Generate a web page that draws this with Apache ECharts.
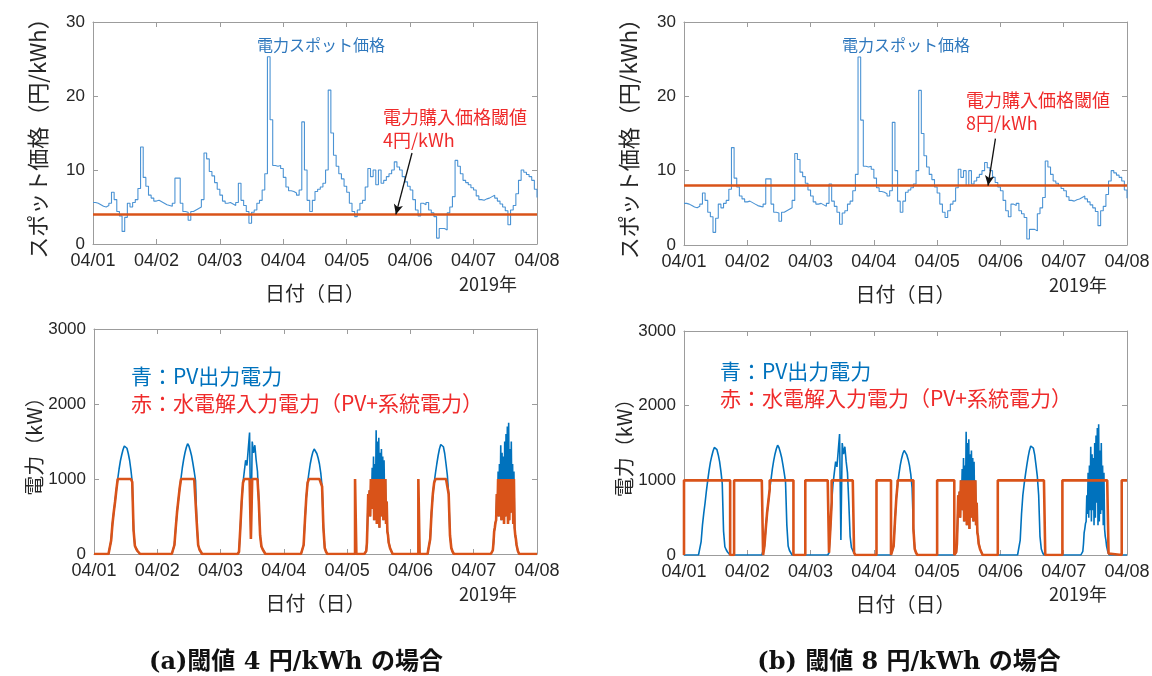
<!DOCTYPE html>
<html>
<head>
<meta charset="utf-8">
<script src="https://cdn.jsdelivr.net/npm/echarts@6.0.0/dist/echarts.min.js"></script>
<style>
  html, body { margin: 0; padding: 0; background: #ffffff; }
  #chart { width: 1152px; height: 676px; }
</style>
</head>
<body>
<div id="chart"></div>
<script>
// ---- data -----------------------------------------------------------------
// x axis runs in hours from 2019-04-01 00:00; one tick per day
const dayLabels = ['04/01', '04/02', '04/03', '04/04', '04/05', '04/06', '04/07', '04/08'];
const HOURS_PER_DAY = 24;

// JEPX spot price, hourly (円/kWh), 04/01 00:00 .. 04/08 00:00
const spotPriceDay1 = [5.6, 5.5, 5.3, 5.1, 5.0, 5.2, 5.5, 7.0, 6.0, 4.4, 3.8, 1.7, 3.6, 5.5, 5.0, 5.6, 6.0, 7.5, 13.1, 9.0, 7.8, 6.6, 6.2, 5.8];
const spotPriceDay2 = [5.9, 5.7, 5.5, 5.3, 5.2, 5.1, 5.5, 8.9, 8.9, 5.5, 4.4, 4.3, 3.2, 4.4, 4.6, 4.8, 5.0, 6.0, 12.3, 11.5, 9.8, 9.2, 8.3, 7.4];
const spotPriceDay3 = [6.6, 5.8, 5.5, 5.6, 5.4, 5.2, 5.6, 8.2, 5.9, 5.2, 4.4, 2.8, 4.3, 4.6, 5.5, 5.9, 7.3, 9.5, 25.3, 16.8, 10.6, 10.5, 10.6, 10.2];
const spotPriceDay4 = [9.0, 7.7, 7.2, 7.1, 6.9, 6.6, 7.3, 16.5, 10.0, 5.9, 4.4, 5.9, 7.1, 7.4, 7.7, 8.2, 10.0, 20.8, 15.0, 12.0, 10.5, 9.5, 8.8, 7.8];
const spotPriceDay5 = [7.0, 5.5, 4.4, 3.7, 4.6, 5.5, 5.9, 7.7, 10.2, 9.1, 10.0, 8.0, 10.0, 8.2, 8.6, 9.1, 9.5, 10.0, 11.1, 10.4, 10.0, 9.1, 8.4, 7.8];
const spotPriceDay6 = [7.3, 6.0, 4.6, 3.8, 5.5, 5.3, 5.6, 4.6, 4.2, 3.7, 0.8, 2.1, 2.1, 1.9, 4.2, 5.0, 6.4, 11.3, 10.5, 9.5, 8.6, 8.3, 8.0, 7.6];
const spotPriceDay7 = [7.3, 6.5, 6.0, 5.9, 6.1, 6.2, 6.4, 6.6, 6.2, 5.8, 5.4, 5.0, 4.5, 2.6, 4.6, 5.2, 6.8, 8.6, 10.0, 9.7, 9.4, 9.1, 8.6, 7.4];
const spotPriceEnd = [6.3];

// purchase thresholds of the two cases (円/kWh)
const thresholdA = 4;
const thresholdB = 8;

// PV output (kW) from 05:30 to 17:30; zero outside that window.
// Clear days are sampled every 30 min, the cloudy days every 15 min.
const PV_FIRST_HOUR = 5.5;
const pvDay1 = [0, 20, 180, 400, 560, 700, 860, 1000, 1130, 1240, 1320, 1390, 1440, 1450, 1410, 1340, 1250, 1120, 960, 320, 110, 70, 40, 15, 0];
const pvDay2 = [0, 0, 120, 350, 560, 720, 880, 1010, 1150, 1260, 1350, 1420, 1470, 1440, 1380, 1310, 1210, 1100, 980, 400, 120, 60, 30, 0, 0];
const pvDay3 = [0, 0, 0, 30, 350, 700, 950, 1100, 1250, 1180, 1400, 1620, 200, 1500, 1350, 1450, 1250, 1100, 700, 250, 100, 60, 30, 0, 0];
const pvDay4 = [0, 0, 0, 0, 120, 450, 750, 950, 1080, 1200, 1290, 1360, 1400, 1390, 1340, 1280, 1200, 1080, 900, 350, 80, 30, 0, 0, 0];
const pvDay5 = [0, 0, 0, 0, 0, 0, 0, 40, 150, 450, 800, 600, 850, 500, 1000, 750, 1150, 600, 1300, 450, 1200, 700, 1650, 400,
                1500, 600, 1550, 350, 1350, 500, 1400, 700, 1300, 450, 1250, 600, 1000, 400, 700, 300, 250, 150, 120, 80, 60, 40, 20, 0, 0];
const pvDay6 = [0, 0, 0, 0, 200, 550, 800, 950, 1080, 1200, 1310, 1400, 1460, 1480, 1430, 1340, 1200, 1050, 800, 250, 80, 30, 0, 0, 0];
const pvDay7 = [0, 0, 0, 0, 0, 0, 0, 50, 150, 300, 350, 420, 450, 800, 550, 1100, 500, 1200, 600, 1450, 450, 1350, 600, 1300,
                400, 1500, 500, 1600, 700, 1700, 400, 1750, 450, 1400, 550, 1500, 600, 1200, 400, 1100, 350, 250, 200, 120, 80, 40, 20, 0, 0];
const pvSampleHours = [0.5, 0.5, 0.5, 0.5, 0.25, 0.5, 0.25];

// electrolyser rated input (kW)
const electrolyserMax = 1000;

// periods (hours from 04/01 00:00) where grid power is bought to run the electrolyser at full load
const gridBuyA = [[99, 99.5], [123, 123.5]];
const gridBuyB = [[0, 17.5], [19, 30], [32.5, 41.5], [46, 55], [56, 64.5], [73, 78.5], [81, 87],
                  [96, 102.5], [119, 137], [143.5, 161], [166, 168]];

// ---- series construction ---------------------------------------------------
const spotPrice = [].concat(spotPriceDay1, spotPriceDay2, spotPriceDay3, spotPriceDay4,
                            spotPriceDay5, spotPriceDay6, spotPriceDay7, spotPriceEnd);
const priceData = spotPrice.map((v, h) => [h, v]);

const pvDays = [pvDay1, pvDay2, pvDay3, pvDay4, pvDay5, pvDay6, pvDay7];
const TOTAL_HOURS = (dayLabels.length - 1) * HOURS_PER_DAY;

function pvAt(t) {
  const d = Math.floor(t / HOURS_PER_DAY);
  const arr = pvDays[d];
  if (!arr) return 0;
  const idx = (t - d * HOURS_PER_DAY - PV_FIRST_HOUR) / pvSampleHours[d];
  const i = Math.round(idx);
  return (Math.abs(idx - i) < 1e-6 && i >= 0 && i < arr.length) ? arr[i] : 0;
}

const pvData = [[0, 0]];
pvDays.forEach((arr, d) => {
  arr.forEach((v, i) => pvData.push([d * HOURS_PER_DAY + PV_FIRST_HOUR + i * pvSampleHours[d], v]));
});
pvData.push([TOTAL_HOURS, 0]);

// electrolyser input: full load while buying from the grid, otherwise PV capped at rated input
function electrolyserInput(periods) {
  const times = new Set(pvData.map(p => p[0]));
  periods.forEach(([a, b]) => { times.add(a); times.add(b); });
  const out = [];
  [...times].sort((x, y) => x - y).forEach(t => {
    const own = Math.min(pvAt(t), electrolyserMax);
    const inside = periods.some(([a, b]) => t > a && t < b);
    const starts = periods.some(([a]) => a === t);
    const ends = periods.some(([, b]) => b === t);
    if (inside) {
      out.push([t, electrolyserMax]);
    } else if (starts) {
      out.push([t, own], [t, electrolyserMax]);
    } else if (ends) {
      out.push([t, electrolyserMax]);
      if (t < TOTAL_HOURS) out.push([t, own]);
    } else {
      out.push([t, own]);
    }
  });
  return out;
}
const inputA = electrolyserInput(gridBuyA);
const inputB = electrolyserInput(gridBuyB);

// ---- styling -----------------------------------------------------------------
const FONT_CJK = '"Noto Sans CJK JP", sans-serif';
const FONT_NUM = '"Liberation Sans", Arial, sans-serif';
const AXIS_GRAY = '#9c9c9c';
const TEXT_DARK = '#262626';
const PRICE_BLUE = '#4b93d4';
const PV_BLUE = '#0072bd';
const INPUT_RED = '#d95319';
const LABEL_BLUE = '#2f78bd';
const LABEL_RED = '#ef2b2b';

const panels = [
  { left: 93,  top: 22,  width: 444, height: 222, yMax: 30,   yStep: 10,   yName: 'スポット価格（円/kWh）', nameSize: 22, nameGap: 44 },
  { left: 684, top: 22,  width: 443, height: 223, yMax: 30,   yStep: 10,   yName: 'スポット価格（円/kWh）', nameSize: 22, nameGap: 44 },
  { left: 94,  top: 329, width: 443, height: 225, yMax: 3000, yStep: 1000, yName: '電力（kW）', nameSize: 20, nameGap: 50 },
  { left: 684, top: 331, width: 443, height: 224, yMax: 3000, yStep: 1000, yName: '電力（kW）', nameSize: 20, nameGap: 50 }
];

const grids = [], xAxes = [], yAxes = [];
panels.forEach((p, i) => {
  grids.push({ left: p.left, top: p.top, width: p.width, height: p.height, containLabel: false, outerBoundsMode: 'none' });
  const tick = { show: true, inside: true, length: 5, lineStyle: { color: AXIS_GRAY, width: 1 } };
  const line = { show: true, onZero: false, lineStyle: { color: AXIS_GRAY, width: 1 } };
  xAxes.push({
    gridIndex: i, type: 'value', position: 'bottom', min: 0, max: TOTAL_HOURS, interval: HOURS_PER_DAY,
    axisLine: line, axisTick: tick, splitLine: { show: false },
    axisLabel: {
      margin: 8, color: TEXT_DARK, fontSize: 18, fontFamily: FONT_NUM,
      showMinLabel: true, showMaxLabel: true, hideOverlap: false,
      formatter: v => dayLabels[Math.round(v / HOURS_PER_DAY)]
    },
    name: '日付（日）', nameLocation: 'middle', nameGap: 39, nameMoveOverlap: false,
    nameTextStyle: { fontSize: 20, color: TEXT_DARK, fontFamily: FONT_CJK }
  });
  xAxes.push({
    gridIndex: i, type: 'value', position: 'top', min: 0, max: TOTAL_HOURS, interval: HOURS_PER_DAY,
    axisLine: line, axisTick: tick, axisLabel: { show: false }, splitLine: { show: false }
  });
  yAxes.push({
    gridIndex: i, type: 'value', position: 'left', min: 0, max: p.yMax, interval: p.yStep,
    axisLine: line, axisTick: tick, splitLine: { show: false },
    axisLabel: {
      margin: 8, color: TEXT_DARK, fontSize: 17, fontFamily: FONT_NUM,
      showMinLabel: true, showMaxLabel: true, formatter: v => String(v)
    },
    name: p.yName, nameLocation: 'middle', nameRotate: 90, nameGap: p.nameGap, nameMoveOverlap: false,
    nameTextStyle: { fontSize: p.nameSize, color: TEXT_DARK, fontFamily: FONT_CJK }
  });
  yAxes.push({
    gridIndex: i, type: 'value', position: 'right', min: 0, max: p.yMax, interval: p.yStep,
    axisLine: line, axisTick: tick, axisLabel: { show: false }, splitLine: { show: false }
  });
});

function priceSeries(panel, threshold, arrowTail, arrowHeadHour) {
  return {
    type: 'line', xAxisIndex: panel * 2, yAxisIndex: panel * 2, data: priceData,
    step: 'end', showSymbol: false, silent: true, z: 2,
    lineStyle: { color: PRICE_BLUE, width: 1.1 },
    markLine: {
      silent: true, animation: false, symbol: ['none', 'none'], label: { show: false },
      data: [
        { yAxis: threshold, lineStyle: { color: INPUT_RED, width: 2.6, type: 'solid' } },
        [
          { coord: arrowTail, symbol: 'none', lineStyle: { color: '#111111', width: 1.3, type: 'solid' } },
          { coord: [arrowHeadHour, threshold], symbol: 'arrow', symbolSize: [7, 10] }
        ]
      ]
    }
  };
}

function powerSeries(panel, inputData) {
  return [
    {
      type: 'line', xAxisIndex: panel * 2, yAxisIndex: panel * 2, data: pvData,
      showSymbol: false, silent: true, z: 2, lineStyle: { color: PV_BLUE, width: 1.6 }
    },
    {
      type: 'line', xAxisIndex: panel * 2, yAxisIndex: panel * 2, data: inputData,
      showSymbol: false, silent: true, z: 3, lineStyle: { color: INPUT_RED, width: 2.6 }
    }
  ];
}

function text(x, y, str, size, color, opts = {}) {
  return {
    type: 'text', silent: true, z: 10,
    style: {
      x, y, text: str, fill: color,
      font: `${opts.weight || 'normal'} ${size}px ${opts.family || FONT_CJK}`,
      align: opts.align || 'left', verticalAlign: opts.valign || 'middle',
      lineHeight: opts.lineHeight
    }
  };
}

const CAPTION_FONT = '"DejaVu Serif", "Noto Sans CJK JP", serif';

const option = {
  animation: false,
  backgroundColor: '#ffffff',
  grid: grids,
  xAxis: xAxes,
  yAxis: yAxes,
  series: [
    priceSeries(0, thresholdA, [120.7, 12.3], 114.6),
    priceSeries(1, thresholdB, [118.1, 14.3], 115.3),
    ...powerSeries(2, inputA),
    ...powerSeries(3, inputB)
  ],
  graphic: [
    text(257, 45, '電力スポット価格', 16, LABEL_BLUE),
    text(383, 106, '電力購入価格閾値\n4円/kWh', 18, LABEL_RED, { valign: 'top', lineHeight: 23 }),
    text(842, 45, '電力スポット価格', 16, LABEL_BLUE),
    text(966, 89, '電力購入価格閾値\n8円/kWh', 18, LABEL_RED, { valign: 'top', lineHeight: 23 }),

    text(131, 376, '青：PV出力電力', 21, PV_BLUE),
    text(131, 403, '赤：水電解入力電力（PV+系統電力）', 21, LABEL_RED),
    text(720, 371, '青：PV出力電力', 21, PV_BLUE),
    text(720, 398, '赤：水電解入力電力（PV+系統電力）', 21, LABEL_RED),

    text(488, 284, '2019年', 18, TEXT_DARK, { align: 'center' }),
    text(1078, 285, '2019年', 18, TEXT_DARK, { align: 'center' }),
    text(488, 594, '2019年', 18, TEXT_DARK, { align: 'center' }),
    text(1078, 594, '2019年', 18, TEXT_DARK, { align: 'center' }),

    text(296, 663, '(a)閾値 4 円/kWh の場合', 24, '#111111', { align: 'center', weight: 'bold', family: CAPTION_FONT }),
    text(909, 663, '(b) 閾値 8 円/kWh の場合', 24, '#111111', { align: 'center', weight: 'bold', family: CAPTION_FONT })
  ]
};

const chart = echarts.init(document.getElementById('chart'), null, { renderer: 'canvas', width: 1152, height: 676 });
chart.setOption(option);
</script>
</body>
</html>
